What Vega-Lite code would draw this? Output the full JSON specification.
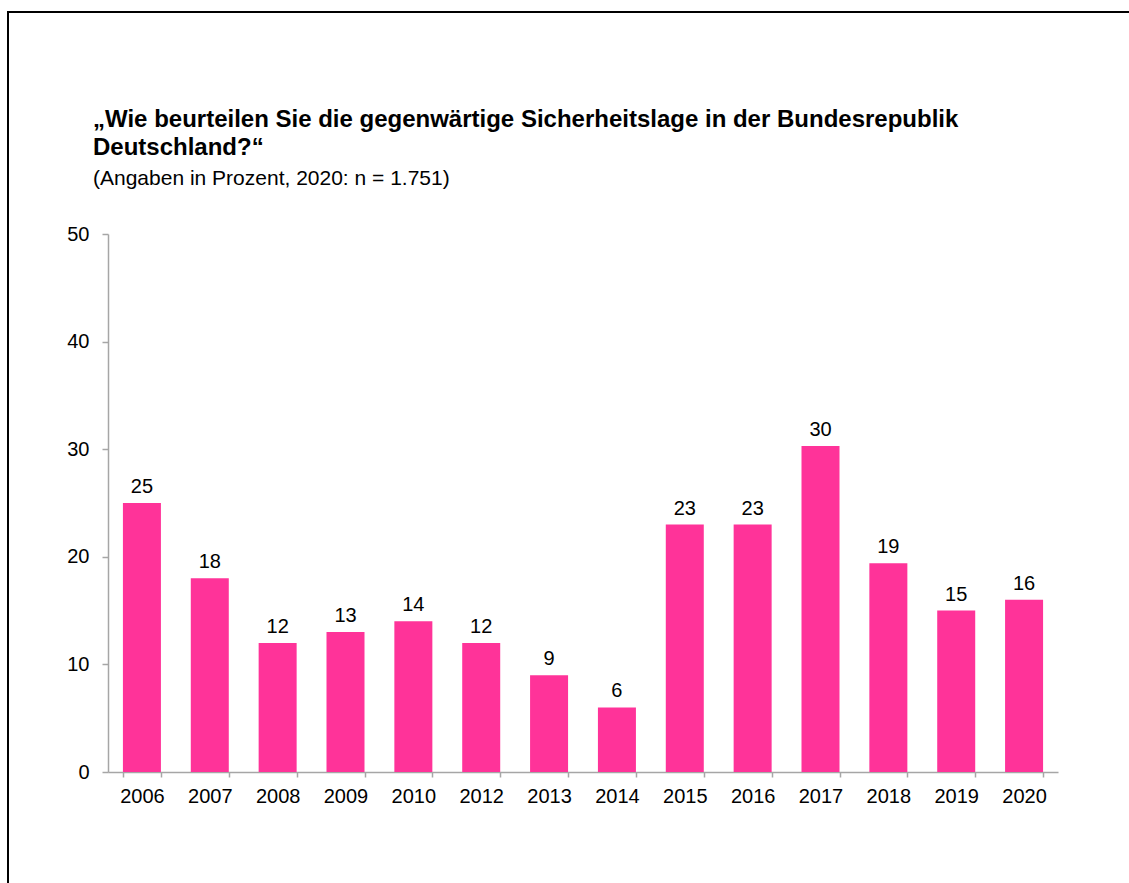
{
  "$schema": "https://vega.github.io/schema/vega-lite/v6.json",
  "autosize": {"type": "none"},
  "padding": {"left": 8, "top": 12, "right": 0, "bottom": 0},
  "width": 1125,
  "height": 880,
  "background": "white",
  "config": {
    "font": "Liberation Sans",
    "view": {"stroke": "black", "strokeWidth": 2}
  },
  "title": {
    "text": ["„Wie beurteilen Sie die gegenwärtige Sicherheitslage in der Bundesrepublik", "Deutschland?“"],
    "subtitle": "(Angaben in Prozent, 2020: n = 1.751)",
    "anchor": "start",
    "frame": "group",
    "orient": "top",
    "font": "Liberation Sans",
    "fontSize": 24,
    "fontWeight": "bold",
    "lineHeight": 28,
    "color": "black",
    "subtitleFont": "Liberation Sans",
    "subtitleFontSize": 21,
    "subtitleColor": "black",
    "subtitlePadding": 8,
    "dx": 85,
    "offset": -177
  },
  "data": {
    "values": [
      {"year": "2006", "value": 25},
      {"year": "2007", "value": 18},
      {"year": "2008", "value": 12},
      {"year": "2009", "value": 13},
      {"year": "2010", "value": 14},
      {"year": "2012", "value": 12},
      {"year": "2013", "value": 9},
      {"year": "2014", "value": 6},
      {"year": "2015", "value": 23},
      {"year": "2016", "value": 23},
      {"year": "2017", "value": 30.3},
      {"year": "2018", "value": 19.4},
      {"year": "2019", "value": 15},
      {"year": "2020", "value": 16}
    ]
  },
  "encoding": {
    "x": {
      "field": "year",
      "type": "nominal",
      "sort": null,
      "scale": {"range": [100, 1050], "paddingInner": 0.44, "paddingOuter": 0.22},
      "axis": {
        "title": null,
        "labelAngle": 0,
        "labelFont": "Liberation Sans",
        "labelFontSize": 20,
        "labelColor": "black",
        "labelPadding": 9,
        "tickBand": "extent",
        "tickSize": 5,
        "tickColor": "#a6a6a6",
        "domainColor": "#a6a6a6",
        "tickWidth": 1.5,
        "domainWidth": 1.5,
        "offset": -120
      }
    },
    "y": {
      "field": "value",
      "type": "quantitative",
      "scale": {"domain": [0, 50], "range": [760, 222], "nice": false},
      "axis": {
        "title": null,
        "values": [0, 10, 20, 30, 40, 50],
        "grid": false,
        "labelFont": "Liberation Sans",
        "labelFontSize": 20,
        "labelColor": "black",
        "labelPadding": 13,
        "tickSize": 6,
        "tickColor": "#a6a6a6",
        "domainColor": "#a6a6a6",
        "tickWidth": 1.5,
        "domainWidth": 1.5,
        "offset": -100
      }
    }
  },
  "layer": [
    {"mark": {"type": "bar", "color": "#FF3399"}},
    {
      "mark": {"type": "text", "baseline": "alphabetic", "dy": -10, "fontSize": 20, "font": "Liberation Sans", "color": "black"},
      "encoding": {"text": {"field": "value", "type": "quantitative", "format": ".0f"}}
    }
  ]
}
